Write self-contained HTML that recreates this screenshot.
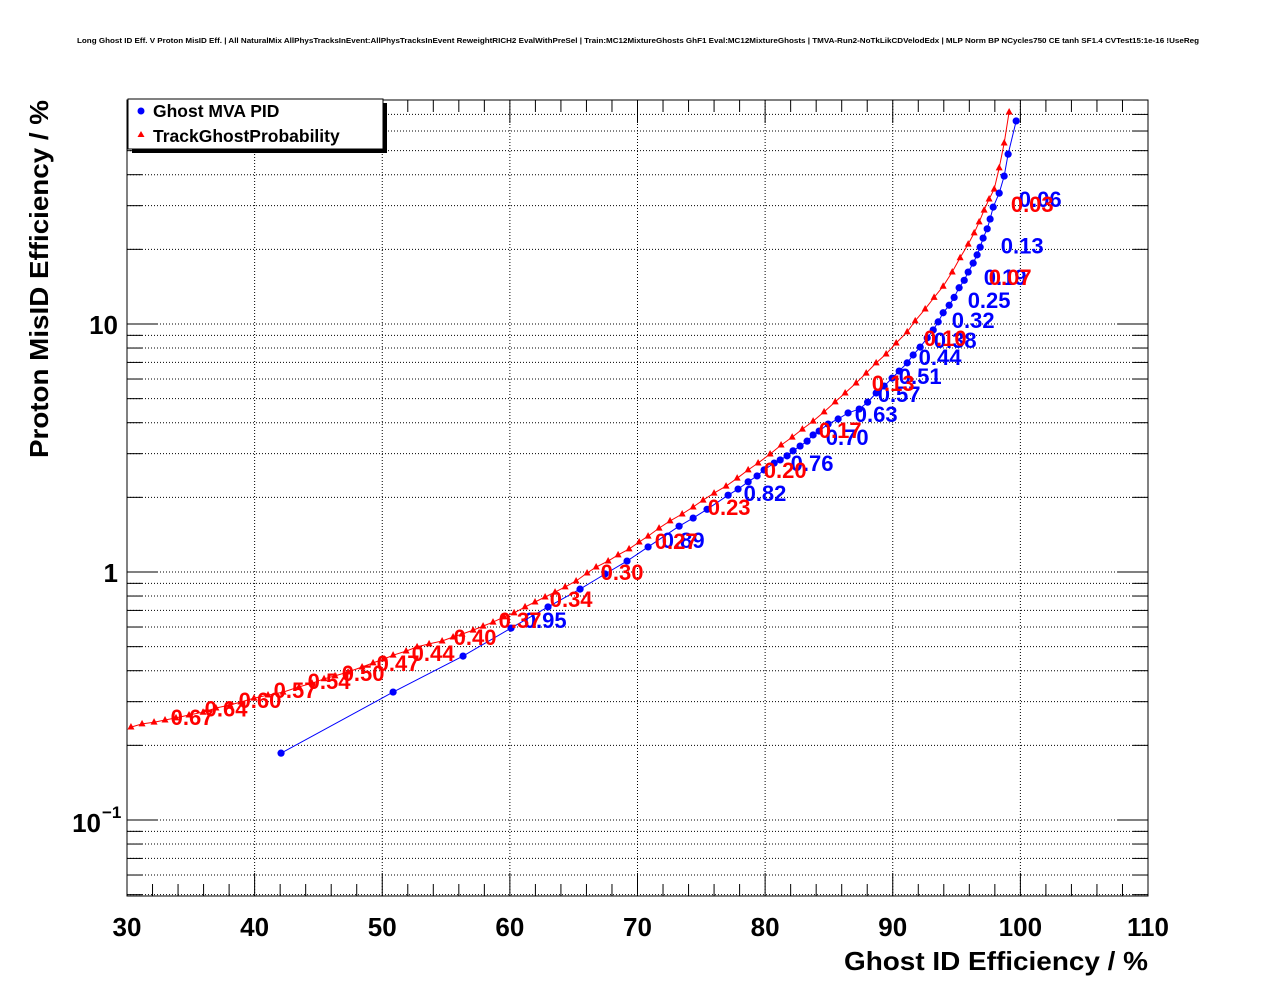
<!DOCTYPE html>
<html><head><meta charset="utf-8"><style>
html,body{margin:0;padding:0;background:#fff;}
svg{display:block;font-family:"Liberation Sans",Arial,sans-serif;}
</style></head><body>
<svg id="chart" width="1276" height="996" viewBox="0 0 1276 996" xmlns="http://www.w3.org/2000/svg">
<rect width="1276" height="996" fill="#fff"/>
<text x="77" y="43" font-size="7" font-weight="bold" textLength="1122" lengthAdjust="spacingAndGlyphs">Long Ghost ID Eff. V Proton MisID Eff. | All NaturalMix AllPhysTracksInEvent:AllPhysTracksInEvent ReweightRICH2 EvalWithPreSel | Train:MC12MixtureGhosts GhF1 Eval:MC12MixtureGhosts | TMVA-Run2-NoTkLikCDVelodEdx | MLP Norm BP NCycles750 CE tanh SF1.4 CVTest15:1e-16 !UseReg</text>
<g id="grid"></g>
<g id="axes"></g>
<g id="series"></g>
<rect x="127" y="100" width="1021" height="796" fill="none" stroke="#000" stroke-width="1"/>
<text x="1148" y="970" text-anchor="end" font-size="26" font-weight="bold" textLength="304" lengthAdjust="spacingAndGlyphs">Ghost ID Efficiency / %</text>
<text transform="translate(48,100) rotate(-90)" text-anchor="end" font-size="26" font-weight="bold" textLength="358" lengthAdjust="spacingAndGlyphs">Proton MisID Efficiency / %</text>
<g>
<rect x="132" y="103" width="255" height="50" fill="#000"/>
<rect x="128" y="99" width="255" height="50" fill="#fff" stroke="#000" stroke-width="1"/>
<circle cx="141" cy="111" r="3.5" fill="#0000ff"/>
<text x="153" y="117" font-size="17.5" font-weight="bold">Ghost MVA PID</text>
<polygon points="141,131 137.5,137 144.5,137" fill="#ff0000"/>
<text x="153" y="142" font-size="17.5" font-weight="bold">TrackGhostProbability</text>
</g>
</svg>
<script>
const blueX=[42.07,50.85,56.33,60.09,62.99,65.50,67.46,69.18,70.83,73.26,74.36,75.45,77.10,77.88,78.67,79.37,79.92,80.71,81.18,81.72,82.19,82.74,83.29,83.76,84.23,84.94,85.72,86.50,87.37,88.03,88.70,89.33,89.95,90.50,91.13,91.60,92.15,92.70,93.17,93.56,93.95,94.42,94.81,95.20,95.60,95.91,96.30,96.61,96.85,97.08,97.40,97.63,97.87,98.34,98.73,99.04,99.67];
const blueY=[0.186,0.328,0.458,0.594,0.723,0.853,0.982,1.107,1.262,1.53,1.65,1.79,2.04,2.16,2.31,2.44,2.58,2.75,2.83,2.94,3.08,3.22,3.37,3.57,3.70,3.95,4.14,4.38,4.54,4.84,5.27,5.62,6.05,6.46,6.97,7.50,8.07,8.79,9.46,10.2,11.1,11.9,12.8,14.0,15.0,16.2,17.6,19.0,20.4,22.2,24.2,26.5,29.6,33.7,39.5,48.4,65.9];
const redX=[30.31,31.18,32.12,32.98,33.84,34.86,35.96,36.97,38.07,38.93,39.95,41.05,42.23,43.48,44.50,45.44,46.30,47.32,48.42,49.28,50.14,50.85,51.87,52.73,53.67,54.69,55.55,56.25,57.12,57.90,58.68,59.55,60.33,61.19,61.97,62.76,63.54,64.33,65.19,66.05,66.76,67.70,68.48,69.34,70.13,70.83,71.69,72.55,73.50,74.36,75.14,76.00,76.94,77.81,78.67,79.45,80.39,81.25,82.12,82.92,83.76,84.62,85.49,86.27,87.13,87.92,88.70,89.48,90.27,91.13,91.76,92.54,93.24,93.95,94.66,95.28,95.91,96.38,96.77,97.16,97.55,97.95,98.34,98.73,99.12];
const redY=[0.237,0.244,0.248,0.253,0.258,0.265,0.272,0.283,0.291,0.299,0.310,0.319,0.328,0.344,0.356,0.371,0.381,0.395,0.414,0.430,0.446,0.462,0.480,0.499,0.513,0.527,0.547,0.562,0.583,0.605,0.628,0.659,0.684,0.723,0.757,0.793,0.830,0.871,0.920,0.991,1.047,1.107,1.172,1.239,1.321,1.396,1.503,1.607,1.714,1.828,1.950,2.08,2.22,2.39,2.58,2.75,2.99,3.25,3.50,3.77,4.06,4.42,4.85,5.27,5.78,6.34,6.97,7.57,8.38,9.29,10.3,11.5,12.8,14.2,16.2,18.5,21.0,23.3,25.8,28.8,31.9,35.0,42.6,53.7,71.6];
const blueLabelText=["0.95","0.89","0.82","0.76","0.70","0.63","0.57","0.51","0.44","0.38","0.32","0.25","0.19","0.13","0.06"];
const blueLabelX=[62.77,73.58,79.99,83.68,86.43,88.70,90.50,92.15,93.71,94.89,96.30,97.55,98.81,100.14,101.55];
const blueLabelY=[0.640,1.346,2.08,2.75,3.50,4.34,5.22,6.17,7.36,8.62,10.4,12.5,15.5,20.7,31.9];
const redLabelText=["0.67","0.64","0.60","0.57","0.54","0.50","0.47","0.44","0.40","0.37","0.34","0.30","0.27","0.23","0.20","0.17","0.13","0.10","0.07","0.03"];
const redLabelX=[35.10,37.76,40.42,43.17,45.83,48.50,51.24,53.98,57.27,60.80,64.80,68.79,73.03,77.18,81.57,85.88,90.03,94.11,99.20,100.93];
const redLabelY=[0.260,0.281,0.305,0.334,0.363,0.392,0.430,0.471,0.547,0.640,0.778,1.00,1.334,1.83,2.58,3.74,5.78,8.79,15.5,30.5];
const xTickLabels=["30","40","50","60","70","80","90","100","110"];

const NS="http://www.w3.org/2000/svg";
const X0=127,X1=1148,Y0=100,Y1=896;
const xMin=30,xMax=110;
const yTop=Math.pow(10,1+(324-100)/248), yBot=Math.pow(10,-1-(896-820)/248);
function sx(v){return X0+(v-xMin)/(xMax-xMin)*(X1-X0);}
function sy(v){const lt=Math.log10(yTop),lb=Math.log10(yBot);return Y0+(lt-Math.log10(v))/(lt-lb)*(Y1-Y0);}
function mk(tag,attrs,parent){const e=document.createElementNS(NS,tag);for(const k in attrs)e.setAttribute(k,attrs[k]);parent.appendChild(e);return e;}
const grid=document.getElementById('grid'),axes=document.getElementById('axes'),ser=document.getElementById('series');

for(let v=30;v<=110;v+=2){
  const x=sx(v),major=(v%10===0);
  if(major&&v>30&&v<110){const g=mk('line',{x1:x,x2:x,y1:Y0,y2:Y1,stroke:'#000','stroke-width':1,'stroke-dasharray':'1,2'},grid);
    
    }
  const L=major?23:12;
  const t1=mk('line',{x1:x,x2:x,y1:Y1,y2:Y1-L,stroke:'#000','stroke-width':1},axes);
  
  
  const t2=mk('line',{x1:x,x2:x,y1:Y0,y2:Y0+L,stroke:'#000','stroke-width':1},axes);
  
  
}
xTickLabels.forEach(function(s){
  const v=parseFloat(s);
  const t=mk('text',{x:sx(v),y:936,'text-anchor':'middle','font-size':26,'font-weight':'bold'},axes);
  t.textContent=s;
  
  
});
for(let d=-2;d<=1;d++){
  for(let m=1;m<=9;m++){
    const v=m*Math.pow(10,d);
    if(v<yBot||v>yTop)continue;
    const y=sy(v),major=(m===1);
    const g=mk('line',{x1:X0,x2:X1,y1:y,y2:y,stroke:'#000','stroke-width':1,'stroke-dasharray':'1,2'},grid);
    
    
    const L=major?31:15;
    const t1=mk('line',{x1:X0,x2:X0+L,y1:y,y2:y,stroke:'#000','stroke-width':1},axes);
    
    
    const t2=mk('line',{x1:X1,x2:X1-L,y1:y,y2:y,stroke:'#000','stroke-width':1},axes);
    
    
  }
}
[[10,'10'],[1,'1']].forEach(function(p){
  const t=mk('text',{x:118,y:sy(p[0])+10,'text-anchor':'end','font-size':26,'font-weight':'bold'},axes);
  t.textContent=p[1];
  
  
});
(function(){
  const t=mk('text',{x:101,y:sy(0.1)+12,'text-anchor':'end','font-size':26,'font-weight':'bold'},axes);
  t.textContent='10';
  
  
  const s=mk('text',{x:102,y:sy(0.1)-2,'font-size':17,'font-weight':'bold'},axes);
  s.textContent='\u22121';
  
  
})();

function drawSeries(xs,ys,color,shape,name){
  const g=mk('g',{},ser);
  
  
  const pts=xs.map(function(v,i){return sx(v).toFixed(1)+','+sy(ys[i]).toFixed(1);}).join(' ');
  const pl=mk('polyline',{points:pts,fill:'none',stroke:color,'stroke-width':1},g);
  
  
  xs.forEach(function(v,i){
    const x=sx(v),y=sy(ys[i]);
    let e;
    if(shape==='circle'){e=mk('circle',{cx:x,cy:y,r:3.6,fill:color},g);}
    else{e=mk('polygon',{points:x+','+(y-4)+' '+(x-3.5)+','+(y+2.5)+' '+(x+3.5)+','+(y+2.5),fill:color},g);}
    
    
  });
}
function drawLabels(txt,xs,ys,color,name){
  txt.forEach(function(s,i){
    const t=mk('text',{x:sx(xs[i]),y:sy(ys[i])+8,'text-anchor':'middle','font-size':22,'font-weight':'bold',fill:color},ser);
    t.textContent=s;
    
    
  });
}
drawSeries(redX,redY,'#ff0000','tri','track-ghost-prob-series');
drawSeries(blueX,blueY,'#0000ff','circle','ghost-mva-series');
drawLabels(blueLabelText,blueLabelX,blueLabelY,'#0000ff','mva-cut-label');
drawLabels(redLabelText,redLabelX,redLabelY,'#ff0000','tgp-cut-label');
</script>
</body></html>
